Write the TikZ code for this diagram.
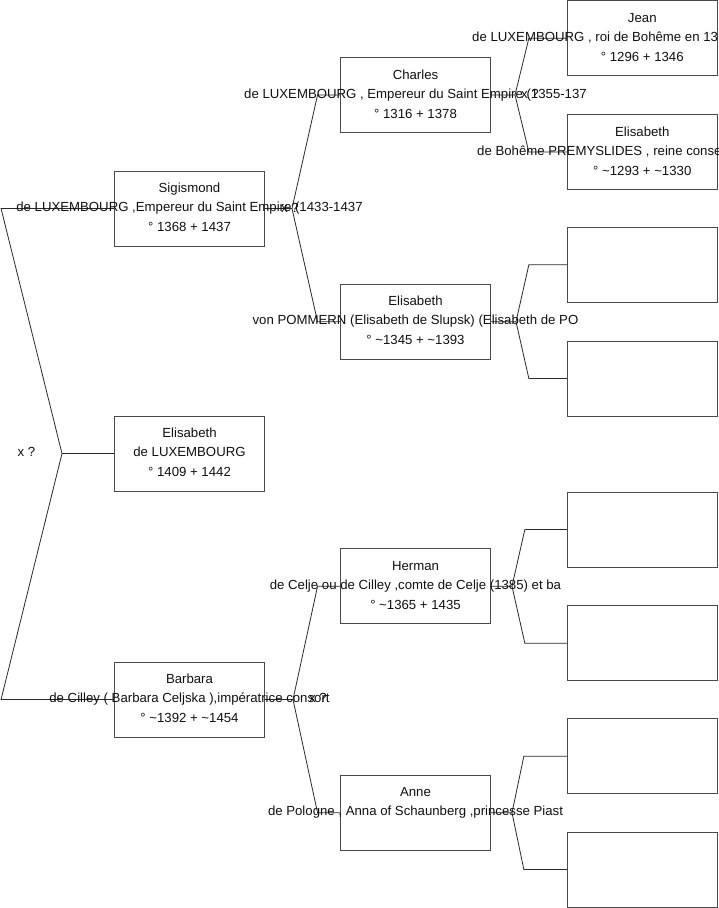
\documentclass[tikz,border=0pt]{standalone}
\usepackage{fontspec}
\setmainfont{Liberation Sans}
\definecolor{boxc}{HTML}{4A4A4A}
\definecolor{linec}{HTML}{2A2A2A}
\definecolor{txtc}{HTML}{111111}
\newcommand\personlines[4]{%
  \node[ptext] (#1-1) at ([yshift=16pt]#1.center) {#2};
  \node[ptext] (#1-2) at ([yshift=-3pt]#1.center) {#3};
  \node[ptext] (#1-3) at ([yshift=-23pt]#1.center) {#4};
}
\begin{document}
\begin{tikzpicture}[x=1pt,y=-1pt,
  pbox/.style={rectangle, draw=boxc, line width=0.9pt, minimum width=150pt, minimum height=75pt, inner sep=0pt},
  ptext/.style={font=\fontsize{13.2}{15}\selectfont, text=txtc, inner sep=0pt, anchor=base},
  conn/.style={draw=linec, line width=0.8pt},
  xq/.style={font=\fontsize{13.2}{15}\selectfont, text=txtc, inner sep=0pt}]
\fill[white] (0,0) rectangle (719,908);
\useasboundingbox (0,0) rectangle (719,908);

% generation 1
\node[pbox] (sig) at (189.5,208.5) {};
\node[pbox] (eli) at (189.5,453.5) {};
\node[pbox] (bar) at (189.5,699.5) {};
% generation 2
\node[pbox] (cha) at (415.5,95) {};
\node[pbox] (pom) at (415.5,321.7) {};
\node[pbox] (her) at (415.5,586.2) {};
\node[pbox] (ann) at (415.5,812.8) {};
% generation 3
\node[pbox] (jea) at (642.3,38.3) {};
\node[pbox] (elb) at (642.3,152) {};
\node[pbox] (e1) at (642.3,264.8) {};
\node[pbox] (e2) at (642.3,378.5) {};
\node[pbox] (e3) at (642.3,529.5) {};
\node[pbox] (e4) at (642.3,643.3) {};
\node[pbox] (e5) at (642.3,756.2) {};
\node[pbox] (e6) at (642.3,869.5) {};

% junctions
\coordinate (j0) at (62,453.5);
\coordinate (jS) at (292,208.5);
\coordinate (jB) at (293,699.5);
\coordinate (jC) at (515,95);
\coordinate (jP) at (516,321.7);
\coordinate (jH) at (512,586.2);
\coordinate (jA) at (512,812.8);

% connectors
\draw[conn] (sig.west) -- ([xshift=-113pt]sig.west) -- (j0) -- ([xshift=-113pt]bar.west) -- (bar.west);
\draw[conn] (j0) -- (eli.west);
\draw[conn] (sig.east) -- (jS) -- ([xshift=-22.5pt]cha.west) -- (cha.west);
\draw[conn] (jS) -- ([xshift=-22.5pt]pom.west) -- (pom.west);
\draw[conn] (bar.east) -- (jB) -- ([xshift=-22.5pt]her.west) -- (her.west);
\draw[conn] (jB) -- ([xshift=-22.5pt]ann.west) -- (ann.west);
\draw[conn] (cha.east) -- (jC) -- ([xshift=-38pt]jea.west) -- (jea.west);
\draw[conn] (jC) -- ([xshift=-38pt]elb.west) -- (elb.west);
\draw[conn] (pom.east) -- (jP) -- ([xshift=-38pt]e1.west) -- (e1.west);
\draw[conn] (jP) -- ([xshift=-38pt]e2.west) -- (e2.west);
\draw[conn] (her.east) -- (jH) -- ([xshift=-42pt]e3.west) -- (e3.west);
\draw[conn] (jH) -- ([xshift=-42pt]e4.west) -- (e4.west);
\draw[conn] (ann.east) -- (jA) -- ([xshift=-43pt]e5.west) -- (e5.west);
\draw[conn] (jA) -- ([xshift=-43pt]e6.west) -- (e6.west);

% texts
\personlines{sig}{Sigismond}{de LUXEMBOURG ,Empereur du Saint Empire (1433-1437}{° 1368 + 1437}
\personlines{eli}{Elisabeth}{de LUXEMBOURG}{° 1409 + 1442}
\personlines{bar}{Barbara}{de Cilley ( Barbara Celjska ),impératrice consort}{° \textasciitilde 1392 + \textasciitilde 1454}
\personlines{cha}{Charles}{de LUXEMBOURG , Empereur du Saint Empire (1355-137}{° 1316 + 1378}
\personlines{pom}{Elisabeth}{von POMMERN (Elisabeth de Slupsk) (Elisabeth de PO}{° \textasciitilde 1345 + \textasciitilde 1393}
\personlines{her}{Herman}{de Celje ou de Cilley ,comte de Celje (1385) et ba}{° \textasciitilde 1365 + 1435}
\node[ptext] (ann-1) at ([yshift=16pt]ann.center) {Anne};
\node[ptext] (ann-2) at ([yshift=-3pt]ann.center) {de Pologne , Anna of Schaunberg ,princesse Piast};
\node[ptext] (jea-1) at ([yshift=16pt]jea.center) {Jean};
\node[ptext, anchor=base west] (jea-2) at (472,41.3) {de LUXEMBOURG , roi de Bohême en 13};
\node[ptext] (jea-3) at ([yshift=-23pt]jea.center) {° 1296 + 1346};
\node[ptext] (elb-1) at ([yshift=16pt]elb.center) {Elisabeth};
\node[ptext, anchor=base west] (elb-2) at (477,155) {de Bohême PREMYSLIDES , reine conse};
\node[ptext] (elb-3) at ([yshift=-23pt]elb.center) {° \textasciitilde 1293 + \textasciitilde 1330};

% marriage marks
\node[xq] (x0) at (26.5,452) {x ?};
\node[xq] (xS) at (290,208) {x ?};
\node[xq] (xB) at (318,698) {x ?};
\node[xq] (xC) at (530,94) {x ?};
\end{tikzpicture}
\end{document}
